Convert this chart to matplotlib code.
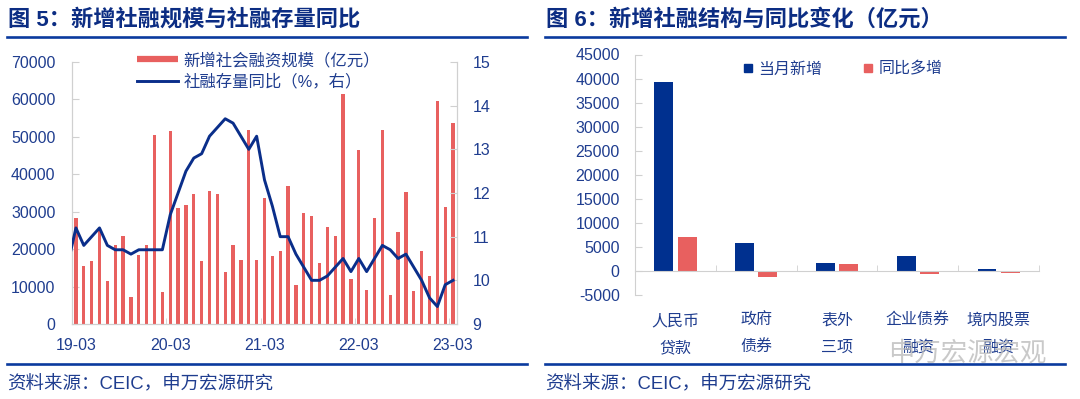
import numpy as np
import pandas as pd
import matplotlib
matplotlib.use("Agg")
import matplotlib.pyplot as plt
from matplotlib.lines import Line2D
from matplotlib.transforms import blended_transform_factory

plt.rcParams['font.family'] = ['Liberation Sans', 'Noto Sans CJK SC', 'DejaVu Sans']
plt.rcParams['axes.unicode_minus'] = False

# ---- data: chart 5 (monthly, 2019-03 .. 2023-03) ----
months = pd.period_range("2019-03", "2023-03", freq="M").strftime("%y-%m").tolist()
tsf_new = [28300, 15500, 16800, 25500, 11400, 21100, 23600, 7200, 18400, 21200,
           50400, 8600, 51600, 30900, 31800, 34600, 16700, 35600, 34600, 13800,
           21200, 17100, 51700, 17100, 33600, 18300, 19400, 36900, 10500, 29600,
           28800, 16200, 25800, 23600, 61500, 12000, 46500, 9100, 28200, 51900,
           7700, 24600, 35200, 8900, 19600, 12900, 59600, 31300, 53800]
tsf_yoy_prev = 10.4  # 2019-02, clipped at the left edge
tsf_yoy = [11.2, 10.8, 11.0, 11.2, 10.8, 10.7, 10.7, 10.6, 10.7, 10.7,
           10.7, 10.7, 11.5, 12.0, 12.5, 12.8, 12.9, 13.3, 13.5, 13.7,
           13.6, 13.3, 13.0, 13.3, 12.3, 11.7, 11.0, 11.0, 10.6, 10.3,
           10.0, 10.0, 10.1, 10.3, 10.5, 10.2, 10.5, 10.2, 10.5, 10.8,
           10.7, 10.5, 10.6, 10.3, 10.0, 9.6, 9.4, 9.9, 10.0]
tick_labels = ["19-03", "20-03", "21-03", "22-03", "23-03"]

# ---- data: chart 6 ----
struct_cats = ["人民币\n贷款", "政府\n债券", "表外\n三项", "企业债券\n融资", "境内股票\n融资"]
struct_new = [39300, 5900, 1700, 3200, 430]
struct_yoy = [7000, -1200, 1500, -570, -360]

RED = "#E8605F"
NAVY = "#00308F"
LINE_BLUE = "#0A2E8A"
TXT = "#1F3D8F"
TITLE = "#0C2D83"
GRID = "#D0D0D0"

fig = plt.figure(figsize=(10.8, 3.99), dpi=100)

# titles, rules, sources
for x0, x1, title in [(7, 527, "图 5：新增社融规模与社融存量同比"),
                      (545, 1065, "图 6：新增社融结构与同比变化（亿元）")]:
    fig.text((x0 + 1) / 1080, 1 - 20 / 399, title, fontsize=16, fontweight="bold",
             color=TITLE, va="center", ha="left")
    for yy in (37, 364):
        fig.add_artist(Line2D([x0 / 1080, x1 / 1080], [1 - yy / 399] * 2,
                              color="#0A3A9E", lw=1.9, transform=fig.transFigure))
    fig.text(x0 / 1080, 1 - 385 / 399, "资料来源：CEIC，申万宏源研究", fontsize=13.3,
             color=TXT, va="center", ha="left")

# ---- chart 5 ----
ax1 = fig.add_axes([72 / 1080, 1 - 324 / 399, 385 / 1080, 262 / 399])
x = np.arange(len(months))
ax1.bar(x, tsf_new, width=0.42, color=RED, zorder=2)
ax1.set_xlim(-0.5, len(months) - 0.5)
ax1.set_ylim(0, 70000)
ax1.set_yticks(range(0, 70001, 10000))
ax1.set_xticks([months.index(t) for t in tick_labels])
ax1.set_xticklabels(tick_labels)
ax1.set_xticks([11.5, 23.5, 35.5, 47.5], minor=True)
ax1.tick_params(axis="x", which="major", length=0, pad=10, labelsize=11.5, labelcolor=TXT)
ax1.tick_params(axis="x", which="minor", length=4, direction="in", color=GRID)
ax1.tick_params(axis="y", direction="in", length=5, color=GRID, pad=12,
                labelsize=11.5, labelcolor=TXT)
ax1.spines["top"].set_visible(False)
for s in ("left", "right", "bottom"):
    ax1.spines[s].set_color(GRID)

ax2 = ax1.twinx()
ax2.plot(np.r_[-1, x], [tsf_yoy_prev] + tsf_yoy, color=LINE_BLUE, lw=2.1, zorder=3,
         solid_joinstyle="round")
ax2.set_ylim(9, 15)
ax2.set_yticks(range(9, 16))
ax2.tick_params(axis="y", direction="in", length=5, color=GRID, pad=11,
                labelsize=11.5, labelcolor=TXT)
ax2.spines["top"].set_visible(False)
for s in ("left", "right", "bottom"):
    ax2.spines[s].set_color(GRID)

h1 = [Line2D([], [], color=RED, lw=4.5, solid_capstyle="butt"),
      Line2D([], [], color=LINE_BLUE, lw=2.1)]
fig.legend(h1, ["新增社会融资规模（亿元）", "社融存量同比（%，右）"],
           loc="upper left", bbox_to_anchor=(129 / 1080, 1 - 44 / 399),
           frameon=False, fontsize=11.8, handlelength=2.5, handletextpad=0.3,
           labelspacing=0.35, borderpad=0, labelcolor=TXT)

# ---- chart 6 ----
ax3 = fig.add_axes([635 / 1080, 1 - 295 / 399, 404 / 1080, 240.5 / 399])
xc = np.arange(len(struct_cats))
ax3.bar(xc - 0.143, struct_new, width=0.234, color=NAVY, zorder=2)
ax3.bar(xc + 0.145, struct_yoy, width=0.234, color=RED, zorder=2)
ax3.set_xlim(-0.5, len(struct_cats) - 0.5)
ax3.set_ylim(-5000, 45000)
ax3.set_yticks(range(-5000, 45001, 5000))
ax3.tick_params(axis="y", direction="in", length=5, color=GRID, pad=11,
                labelsize=11.5, labelcolor=TXT)
ax3.spines["top"].set_visible(False)
ax3.spines["right"].set_visible(False)
ax3.spines["left"].set_color(GRID)
ax3.spines["bottom"].set_position(("data", 0))
ax3.spines["bottom"].set_color(GRID)
ax3.set_xticks(xc)
ax3.set_xticklabels([])
ax3.set_xticks(xc + 0.5, minor=True)
ax3.tick_params(axis="x", which="major", length=0)
ax3.tick_params(axis="x", which="minor", length=4, direction="in", color=GRID)
tr = blended_transform_factory(ax3.transData, ax3.transAxes)
for i, lab in enumerate(struct_cats):
    ax3.text(i, -0.075, lab, transform=tr, ha="center", va="top", fontsize=11.5,
             color=TXT, linespacing=2.0)

h3 = [Line2D([], [], color=NAVY, marker="s", ms=5.2, ls="none"),
      Line2D([], [], color=RED, marker="s", ms=5.2, ls="none")]
fig.legend(h3, ["当月新增", "同比多增"], loc="center left",
           bbox_to_anchor=(735 / 1080, 1 - 69 / 399), ncol=2, frameon=False,
           fontsize=11.5, handlelength=0.6, handletextpad=0.35, columnspacing=2.6,
           borderpad=0, labelcolor=TXT)

# watermark
fig.text(888 / 1080, 1 - 353 / 399, "申万宏源宏观", fontsize=19, color="#B8B8B8",
         alpha=0.75, va="center", ha="left")

fig.savefig("out.png", dpi=100)
